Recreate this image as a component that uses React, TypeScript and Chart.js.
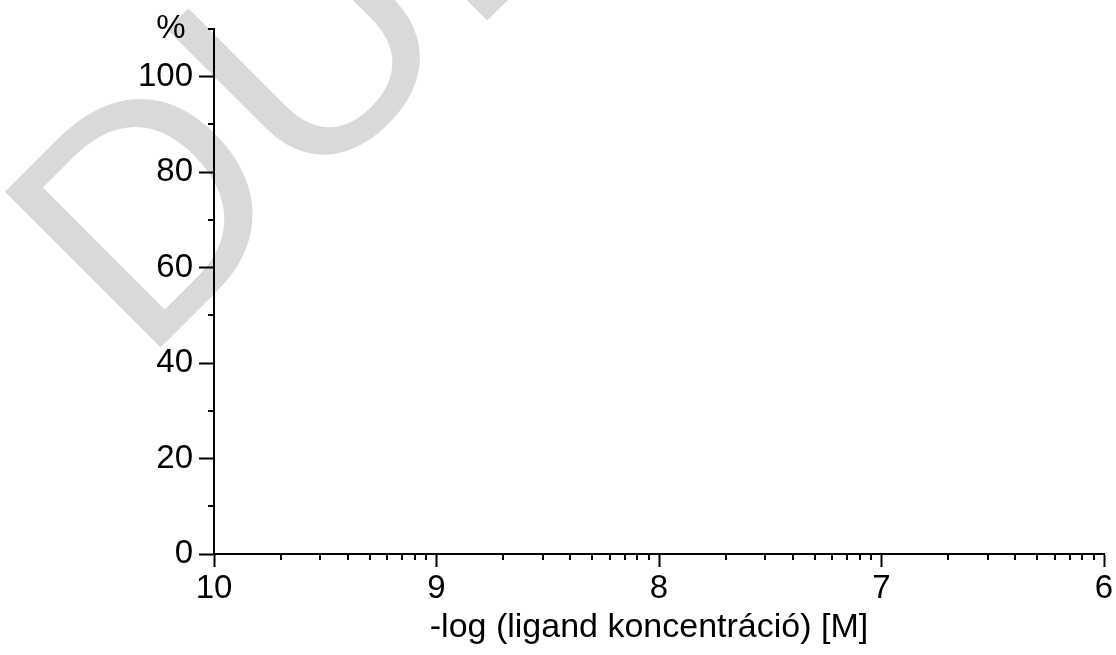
import React, { useEffect, useRef } from "react";
import { Chart, registerables } from "chart.js";

Chart.register(...registerables);

// Axis ranges and tick values
const xMin = 6;
const xMax = 10;
const yMin = 0;
const yMax = 110;
const xMajorTicks = [10, 9, 8, 7, 6];
// minor ticks inside each decade sit at (major - log10(k))
const xMinorFactors = [2, 3, 4, 5, 6, 7, 8, 9];
const yMajorTicks = [0, 20, 40, 60, 80, 100];
const yMinorTicks = [10, 30, 50, 70, 90, 110];

const xTitle = "-log (ligand koncentráció) [M]";
const yUnit = "%";
const watermarkText = "DUPLIKÁTUM";

const FONT = '"Liberation Sans", Arial, sans-serif';

const watermarkPlugin = {
  id: "watermark",
  beforeDraw(chart: any) {
    const { ctx } = chart;
    ctx.save();
    ctx.translate(142, 366);
    ctx.rotate(-Math.PI / 4);
    ctx.font = `320px ${FONT}`;
    ctx.fillStyle = "#d9d9d9";
    ctx.textAlign = "left";
    ctx.textBaseline = "alphabetic";
    ctx.fillText(watermarkText, 0, 0);
    ctx.restore();
  },
};

const minorTickPlugin = {
  id: "minorTicks",
  afterDraw(chart: any) {
    const { ctx, chartArea, scales } = chart;
    const x = scales.x;
    const y = scales.y;
    ctx.save();
    ctx.strokeStyle = "#000";
    ctx.lineWidth = 2;
    ctx.beginPath();
    for (const major of xMajorTicks) {
      if (major <= xMin) continue;
      for (const k of xMinorFactors) {
        const px = Math.round(x.getPixelForValue(major - Math.log10(k)));
        ctx.moveTo(px, chartArea.bottom);
        ctx.lineTo(px, chartArea.bottom + 6);
      }
    }
    for (const v of yMinorTicks) {
      const py = Math.round(y.getPixelForValue(v));
      ctx.moveTo(chartArea.left - 6, py);
      ctx.lineTo(chartArea.left, py);
    }
    ctx.stroke();

    // axis title and unit label
    ctx.fillStyle = "#000";
    ctx.font = `34px ${FONT}`;
    ctx.textAlign = "center";
    ctx.textBaseline = "alphabetic";
    ctx.fillText(xTitle, (chartArea.left + chartArea.right) / 2 - 10, 637);

    ctx.font = `33px ${FONT}`;
    ctx.textBaseline = "middle";
    ctx.fillText(yUnit, chartArea.left - 43, y.getPixelForValue(yMax));
    ctx.restore();
  },
};

export default function App() {
  const canvasRef = useRef<HTMLCanvasElement | null>(null);

  useEffect(() => {
    const canvas = canvasRef.current;
    if (!canvas) return;
    const chart = new Chart(canvas, {
      type: "scatter",
      data: { datasets: [{ data: [] }] },
      plugins: [watermarkPlugin, minorTickPlugin],
      options: {
        animation: false,
        responsive: false,
        devicePixelRatio: 1,
        layout: { padding: { top: 29, right: 12, left: 0, bottom: 0 } },
        plugins: { legend: { display: false }, tooltip: { enabled: false } },
        scales: {
          x: {
            type: "linear",
            reverse: true,
            min: xMin,
            max: xMax,
            afterBuildTicks: (s: any) => {
              s.ticks = xMajorTicks.map((v) => ({ value: v }));
            },
            afterFit: (s: any) => {
              s.height = 101;
            },
            ticks: {
              color: "#000",
              font: { family: FONT, size: 33 },
              padding: 2,
              maxRotation: 0,
              autoSkip: false,
            },
            grid: {
              drawOnChartArea: false,
              tickLength: 13,
              tickWidth: 2,
              tickColor: "#000",
            },
            border: { color: "#000", width: 2 },
          },
          y: {
            type: "linear",
            min: yMin,
            max: yMax,
            afterBuildTicks: (s: any) => {
              s.ticks = yMajorTicks.map((v) => ({ value: v }));
            },
            afterFit: (s: any) => {
              s.width = 214;
            },
            ticks: {
              color: "#000",
              font: { family: FONT, size: 33 },
              padding: 6,
              autoSkip: false,
            },
            grid: {
              drawOnChartArea: false,
              tickLength: 15,
              tickWidth: 2,
              tickColor: "#000",
            },
            border: { color: "#000", width: 2 },
          },
        },
      },
    });
    return () => chart.destroy();
  }, []);

  return (
    <div style={{ position: "fixed", left: 0, top: 0, width: 1116, height: 655, background: "#fff" }}>
      <canvas ref={canvasRef} width={1116} height={655} />
    </div>
  );
}
